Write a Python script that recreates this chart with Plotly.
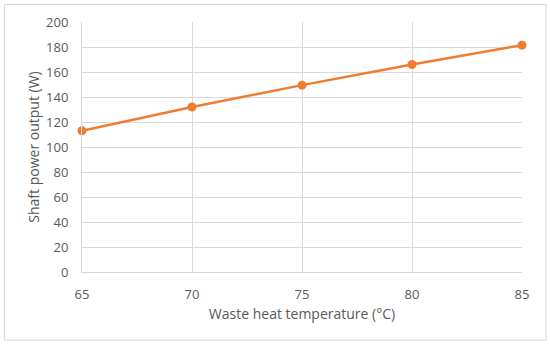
import plotly.graph_objects as go

temperature = [65, 70, 75, 80, 85]
shaft_power = [113, 132, 149.5, 166, 181.5]

x_ticks = [65, 70, 75, 80, 85]
y_ticks = [0, 20, 40, 60, 80, 100, 120, 140, 160, 180, 200]

fig = go.Figure()
fig.add_trace(go.Scatter(
    x=temperature, y=shaft_power, mode="lines+markers",
    line=dict(color="#ED7D31", width=2.5),
    marker=dict(color="#ED7D31", size=9),
    showlegend=False, cliponaxis=False, hoverinfo="skip",
))

font = dict(family="Open Sans, sans-serif", size=13, color="#595959")
fig.update_layout(
    width=550, height=347,
    margin=dict(l=82, r=28, t=22, b=75),
    paper_bgcolor="white", plot_bgcolor="white",
    font=font,
    xaxis=dict(
        range=[65, 85], tickvals=x_ticks, showgrid=True, gridcolor="#d9d9d9", gridwidth=1,
        showline=True, linecolor="#d9d9d9", linewidth=1, zeroline=False,
        ticks="outside", ticklen=10, tickcolor="rgba(0,0,0,0)",
        title=dict(text="Waste heat temperature (°C)", font=dict(size=14, color="#595959"), standoff=7),
    ),
    yaxis=dict(
        range=[0, 200], tickvals=y_ticks, showgrid=True, gridcolor="#d9d9d9", gridwidth=1,
        showline=True, linecolor="#d9d9d9", linewidth=1, zeroline=False,
        ticks="outside", ticklen=10, tickcolor="rgba(0,0,0,0)",
        title=dict(text="Shaft power output (W)", font=dict(size=14, color="#595959"), standoff=3),
    ),
    shapes=[dict(type="rect", xref="paper", yref="paper",
                 x0=-0.1763, x1=1.0546, y0=-0.2725, y1=1.07,
                 line=dict(color="#d9d9d9", width=1), layer="below")],
)

fig.write_html("out.html", config={"displayModeBar": False},
               post_script="document.body.style.margin='0';document.body.style.overflow='hidden';")
